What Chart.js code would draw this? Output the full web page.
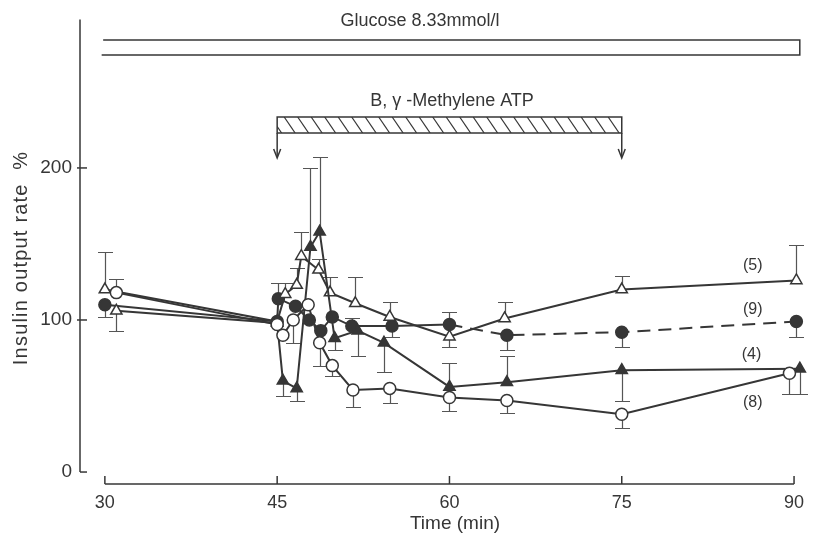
<!DOCTYPE html>
<html><head><meta charset="utf-8">
<script src="https://cdn.jsdelivr.net/npm/chart.js@4/dist/chart.umd.min.js"></script>
<style>html,body{margin:0;padding:0;background:#fff}canvas{display:block}</style>
</head><body>
<canvas id="c" width="814" height="536"></canvas>
<script>
// ---- data (time in min, insulin output rate in %) ----
const xTicks = [30, 45, 60, 75, 90];
const yTicks = [0, 100, 200];
const seriesLabels = ['(5)', '(9)', '(4)', '(8)'];
const xTitle = 'Time (min)';
const yTitle = 'Insulin output rate  %';

// (5) open triangles
const t5 = [30, 45, 45.7, 46.7, 47.1, 48.6, 49.6, 51.8, 54.8, 60, 64.8, 75, 90.2];
const y5 = [120, 99, 117, 123, 142, 133, 118, 111, 102, 89, 101, 120, 126];
const e5 = [145, null, 124, 134, 158, 140, 128, 128, 112, 82.5, 112, 129, 149];

// (9) filled circles
const t9 = [30, 45, 45.1, 46.6, 47.8, 48.8, 49.8, 51.5, 55, 60, 65, 75, 90.2];
const y9 = [110, 99, 114, 109, 100, 93, 102, 96, 96, 97, 90, 92, 99];
const e9 = [102, null, 124, null, null, null, null, 101, 89, 105, 80, 82, 89];

// (4) filled triangles
const t4 = [31, 45, 45.5, 46.7, 47.9, 48.7, 50, 52, 54.3, 60, 65, 75, 90.5];
const y4 = [106, 98, 60, 55, 148, 158, 88, 93, 85, 56, 59, 67, 68];
const e4 = [93, null, 50, 47, 200, 207, 80, 76, 66, 72, 76.5, 47, 51];

// (8) open circles
const t8 = [31, 45, 45.5, 46.4, 47.7, 48.7, 49.8, 51.6, 54.8, 60, 65, 75, 89.6];
const y8 = [118, 97, 90, 100, 110, 85, 70, 54, 55, 49, 47, 38, 65];
const e8 = [127, null, null, 85, null, 69.5, 63, 43, 45.7, 40, 39, 29, 51];

// ---- drawing ----
const F = '"Liberation Sans", Arimo, Arial, Helvetica, sans-serif';
const INK = '#363636';
const pts = (t, v) => t.map((x, i) => ({x: x, y: v[i]}));

const deco = {
  id: 'deco',
  beforeDatasetsDraw(chart) {
    const {ctx, scales: {x, y}} = chart;
    ctx.save();
    ctx.strokeStyle = '#555'; ctx.lineWidth = 1.2;
    chart.data.datasets.forEach(ds => {
      (ds.err || []).forEach((e, i) => {
        if (e == null) return;
        const px = Math.round(x.getPixelForValue(ds.data[i].x)) + 0.5;
        const p0 = y.getPixelForValue(ds.data[i].y), p1 = Math.round(y.getPixelForValue(e)) + 0.5;
        ctx.beginPath(); ctx.moveTo(px, p0); ctx.lineTo(px, p1);
        ctx.moveTo(px - 7.5, p1); ctx.lineTo(px + 7.5, p1); ctx.stroke();
      });
    });
    ctx.restore();
  },
  afterDraw(chart) {
    const {ctx, chartArea: a, scales: {x, y}} = chart;
    ctx.save();
    ctx.strokeStyle = INK; ctx.fillStyle = INK; ctx.lineWidth = 1.5;
    // y axis line and ticks
    const y0 = y.getPixelForValue(0);
    ctx.beginPath(); ctx.moveTo(a.left, y0); ctx.lineTo(a.left, a.top); ctx.stroke();
    yTicks.forEach(v => {
      const py = y.getPixelForValue(v);
      ctx.beginPath(); ctx.moveTo(v === 0 ? a.left : a.left - 3, py); ctx.lineTo(a.left + 7, py); ctx.stroke();
    });
    // x axis line (detached) and ticks
    const xb = a.bottom;
    ctx.beginPath();
    ctx.moveTo(x.getPixelForValue(xTicks[0]), xb); ctx.lineTo(x.getPixelForValue(xTicks[xTicks.length - 1]), xb);
    ctx.stroke();
    xTicks.forEach(v => {
      const px = x.getPixelForValue(v);
      ctx.beginPath(); ctx.moveTo(px, xb); ctx.lineTo(px, xb - 8); ctx.stroke();
    });
    // axis titles
    ctx.textAlign = 'center'; ctx.textBaseline = 'middle';
    ctx.font = '19px ' + F;
    ctx.fillText(xTitle, 455, 524);
    ctx.save();
    ctx.translate(21, 258); ctx.rotate(-Math.PI / 2);
    ctx.font = '20px ' + F;
    try { ctx.letterSpacing = '1.2px'; } catch (e) {}
    ctx.fillText(yTitle, 0, 0);
    ctx.restore();
    // glucose bar
    const gx0 = x.getPixelForValue(29.85), gx1 = x.getPixelForValue(90.5);
    ctx.lineWidth = 1.5;
    ctx.beginPath();
    ctx.moveTo(gx0, 40); ctx.lineTo(gx1, 40); ctx.lineTo(gx1, 55); ctx.lineTo(gx0 - 1.5, 55);
    ctx.stroke();
    ctx.font = '18px ' + F;
    ctx.fillText('Glucose 8.33mmol/l', 420, 21);
    // methylene ATP bar
    const hx0 = x.getPixelForValue(45), hx1 = x.getPixelForValue(75);
    const ht = 117, hb = 133;
    ctx.fillText('B, \u03B3 -Methylene ATP', 452, 101);
    ctx.strokeRect(hx0, ht, hx1 - hx0, hb - ht);
    ctx.save();
    ctx.beginPath(); ctx.rect(hx0, ht, hx1 - hx0, hb - ht); ctx.clip();
    ctx.lineWidth = 1.2;
    for (let sx = hx0 - 20; sx < hx1 + 20; sx += 13.5) {
      ctx.beginPath(); ctx.moveTo(sx, ht); ctx.lineTo(sx + 11, hb); ctx.stroke();
    }
    ctx.restore();
    [hx0, hx1].forEach(px => {
      ctx.beginPath(); ctx.moveTo(px, hb); ctx.lineTo(px, 157); ctx.stroke();
      ctx.beginPath(); ctx.moveTo(px - 3.5, 149); ctx.lineTo(px, 158); ctx.lineTo(px + 3.5, 149); ctx.stroke();
    });
    // series labels
    ctx.font = '16px ' + F;
    const lp = [[86.4, 136], [86.4, 107], [86.3, 77], [86.4, 46]];
    seriesLabels.forEach((s, i) => {
      ctx.fillText(s, x.getPixelForValue(lp[i][0]), y.getPixelForValue(lp[i][1]));
    });
    ctx.restore();
  }
};

const common = {borderColor: INK, borderWidth: 2, pointBorderColor: INK, pointBorderWidth: 1.5,
  showLine: true, tension: 0, clip: false};

new Chart(document.getElementById('c'), {
  type: 'scatter',
  data: {
    datasets: [
      Object.assign({}, common, {label: '(8)', data: pts(t8, y8), err: e8, pointStyle: 'circle',
        pointRadius: 6, pointBackgroundColor: '#fff'}),
      Object.assign({}, common, {label: '(4)', data: pts(t4, y4), err: e4, pointStyle: 'triangle',
        pointRadius: 6.5, pointBackgroundColor: t4.map((v, i) => i === 0 ? '#fff' : INK)}),
      Object.assign({}, common, {label: '(5)', data: pts(t5, y5), err: e5, pointStyle: 'triangle',
        pointRadius: 6.5, pointBackgroundColor: '#fff'}),
      Object.assign({}, common, {label: '(9)', data: pts(t9, y9), err: e9, pointStyle: 'circle',
        pointRadius: 6, pointBackgroundColor: INK,
        segment: {borderDash: c => c.p0.parsed.x >= 59 ? [13, 8] : undefined}})
    ]
  },
  options: {
    responsive: false, animation: false, devicePixelRatio: 1,
    layout: {padding: {top: 18, right: 4, left: 0, bottom: 0}},
    plugins: {legend: {display: false}, tooltip: {enabled: false}},
    scales: {
      x: {
        type: 'linear', min: 27.835, max: 91.04,
        grid: {display: false, drawTicks: false}, border: {display: false},
        afterBuildTicks: s => { s.ticks = xTicks.map(v => ({value: v})); },
        afterFit: s => { s.height = 52; },
        ticks: {color: INK, font: {family: F, size: 18}, padding: 8, maxRotation: 0, autoSkip: false},
        title: {display: false}
      },
      y: {
        min: -7.87, max: 297.7,
        grid: {display: false, drawTicks: false}, border: {display: false},
        afterBuildTicks: s => { s.ticks = yTicks.map(v => ({value: v})); },
        afterFit: s => { s.width = 80; },
        ticks: {color: INK, font: {family: F, size: 19}, padding: 8},
        title: {display: false}
      }
    }
  },
  plugins: [deco]
});
</script>
</body></html>
